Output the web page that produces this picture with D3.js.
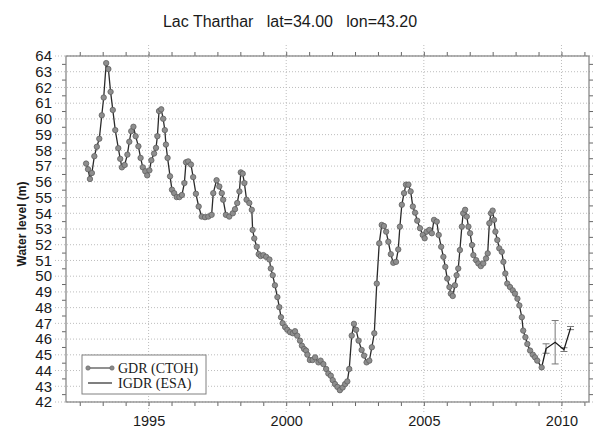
<!DOCTYPE html>
<html><head><meta charset="utf-8">
<script src="https://cdn.jsdelivr.net/npm/d3@7"></script>
<style>body{margin:0;background:#fff}svg{display:block}</style>
</head><body><svg id="c" width="593" height="428"></svg>
<script>
const title = "Lac Tharthar\u00A0\u00A0\u00A0lat=34.00\u00A0\u00A0\u00A0lon=43.20";
const yLabel = "Water level (m)";
const legendLabels = ["GDR (CTOH)", "IGDR (ESA)"];
const yTicks = [42,43,44,45,46,47,48,49,50,51,52,53,54,55,56,57,58,59,60,61,62,63,64];
const xTickLabels = [1995, 2000, 2005, 2010];

const gdrYears = [1992.73,1992.80,1992.87,1992.94,1993.03,1993.12,1993.21,1993.30,1993.37,1993.46,1993.54,1993.62,1993.70,1993.79,1993.90,1993.97,1994.03,1994.13,1994.23,1994.30,1994.37,1994.45,1994.53,1994.63,1994.71,1994.79,1994.88,1994.95,1995.03,1995.10,1995.20,1995.27,1995.32,1995.38,1995.46,1995.53,1995.59,1995.63,1995.69,1995.78,1995.85,1995.93,1996.02,1996.12,1996.21,1996.30,1996.36,1996.44,1996.54,1996.62,1996.72,1996.82,1996.93,1997.05,1997.17,1997.29,1997.35,1997.47,1997.57,1997.66,1997.71,1997.81,1997.93,1998.06,1998.14,1998.22,1998.30,1998.35,1998.42,1998.48,1998.56,1998.66,1998.75,1998.78,1998.84,1998.93,1999.00,1999.07,1999.17,1999.27,1999.39,1999.44,1999.51,1999.59,1999.68,1999.75,1999.81,1999.87,1999.96,2000.04,2000.14,2000.24,2000.32,2000.40,2000.50,2000.57,2000.65,2000.72,2000.77,2000.86,2000.96,2001.05,2001.17,2001.25,2001.35,2001.45,2001.53,2001.62,2001.69,2001.77,2001.86,2001.95,2002.05,2002.14,2002.22,2002.29,2002.38,2002.46,2002.54,2002.63,2002.74,2002.83,2002.92,2003.02,2003.11,2003.20,2003.29,2003.38,2003.47,2003.55,2003.63,2003.71,2003.80,2003.89,2003.99,2004.07,2004.13,2004.20,2004.28,2004.35,2004.44,2004.52,2004.60,2004.68,2004.76,2004.86,2004.96,2005.03,2005.10,2005.20,2005.29,2005.37,2005.47,2005.54,2005.63,2005.71,2005.78,2005.85,2005.93,2005.98,2006.05,2006.13,2006.19,2006.25,2006.31,2006.38,2006.43,2006.50,2006.56,2006.62,2006.68,2006.75,2006.80,2006.90,2006.98,2007.07,2007.16,2007.26,2007.32,2007.38,2007.44,2007.50,2007.55,2007.60,2007.67,2007.74,2007.83,2007.89,2007.96,2008.03,2008.13,2008.23,2008.31,2008.40,2008.47,2008.56,2008.61,2008.69,2008.76,2008.86,2008.96,2009.04,2009.12,2009.28];
const gdrLevels = [57.16,56.8,56.18,56.56,57.63,58.23,58.74,60.23,61.36,63.55,63.17,61.72,60.57,59.29,58.14,57.46,56.92,57.07,57.73,58.55,59.22,59.5,58.9,58.26,57.52,56.92,56.67,56.41,56.73,57.37,57.8,58.16,58.9,60.5,60.61,60.01,59.29,58.37,57.52,56.35,55.5,55.28,55.03,55.03,55.16,55.92,57.24,57.3,57.1,56.3,55.24,54.43,53.79,53.75,53.79,53.9,55.28,56.1,55.7,55.28,54.86,53.9,53.79,54.0,54.26,54.65,55.39,56.6,56.52,55.92,54.86,54.65,54.22,52.94,52.4,51.87,51.4,51.28,51.34,51.23,51.06,50.49,50.06,49.42,48.67,48.03,47.39,47.01,46.76,46.59,46.44,46.37,46.5,46.22,45.9,45.58,45.37,45.27,45.01,44.67,44.67,44.84,44.52,44.63,44.41,44.1,43.81,43.67,43.39,43.14,42.96,42.75,42.92,43.14,43.31,44.1,46.22,46.97,46.59,45.9,45.31,44.95,44.52,44.63,45.48,46.37,49.53,52.09,53.26,53.19,52.83,52.19,51.4,50.85,50.91,51.7,53.15,54.54,55.28,55.82,55.82,55.39,54.43,54.04,53.53,53.05,52.62,52.41,52.83,52.94,52.73,53.58,53.47,52.62,51.87,51.23,50.59,49.85,49.31,48.89,48.74,49.42,50.06,50.49,51.66,53.15,54.0,54.22,53.79,53.15,52.73,51.98,51.34,51.02,50.81,50.64,50.81,51.13,51.45,53.37,54.0,54.17,53.58,52.83,52.3,51.77,51.55,50.91,50.17,49.53,49.31,49.1,48.89,48.57,48.14,47.39,46.54,46.12,45.69,45.27,45.01,44.84,44.63,44.2];

const igdrYears = [2009.28, 2009.44, 2009.77, 2010.09, 2010.33];
const igdrLevels = [44.2, 45.4, 45.8, 45.33, 46.7];
const igdrErrors = [0, 0.3, 1.38, 0.12, 0.1];

const svg = d3.select('#c');
const W = 593, H = 428;
const x = d3.scaleLinear().domain([1992, 2011]).range([66, 589]);
const y = d3.scaleLinear().domain([42, 64]).range([402, 56]);
const [x0, x1] = x.range();
const [yb, yt] = y.range();

const fontSans = "'Liberation Sans', Arial, Helvetica, sans-serif";

svg.append('g').selectAll('line').data(yTicks).join('line')
  .attr('x1', x0 - 11).attr('x2', W)
  .attr('y1', d => y(d)).attr('y2', d => y(d))
  .attr('stroke', '#bdbdbd').attr('stroke-width', 1).attr('stroke-dasharray', '1,2');

svg.append('g').selectAll('line').data(xTickLabels).join('line')
  .attr('x1', d => x(d)).attr('x2', d => x(d))
  .attr('y1', yt - 11).attr('y2', yb + 11)
  .attr('stroke', '#bdbdbd').attr('stroke-width', 1).attr('stroke-dasharray', '1,2');

const halfTicks = yTicks.slice(0, -1).map(d => d + 0.5);
const xMinor = d3.range(-3, 20).map(k => 1995 + k * 5 / 6);

function styleAxis(g) {
  g.select('.domain').remove();
  g.selectAll('.tick line').attr('stroke', '#666');
  g.selectAll('text').attr('fill', '#1a1a1a').style('font-family', fontSans);
}

svg.append('g').attr('transform', `translate(${x0},0)`)
  .call(d3.axisLeft(y).tickValues(halfTicks).tickSize(4).tickFormat('')).call(styleAxis);
svg.append('g').attr('transform', `translate(${x1},0)`)
  .call(d3.axisRight(y).tickValues(halfTicks).tickSize(4).tickFormat('')).call(styleAxis);
svg.append('g').attr('transform', `translate(0,${yb})`)
  .call(d3.axisBottom(x).tickValues(xMinor).tickSize(4).tickFormat('')).call(styleAxis);
svg.append('g').attr('transform', `translate(0,${yt})`)
  .call(d3.axisTop(x).tickValues(xMinor).tickSize(4).tickFormat('')).call(styleAxis);

svg.append('g').attr('transform', `translate(${x0},0)`)
  .call(d3.axisLeft(y).tickValues(yTicks).tickSize(0).tickPadding(14).tickFormat(d3.format('d')))
  .call(styleAxis).selectAll('text').style('font-size', '15px');
svg.append('g').attr('transform', `translate(0,${yb})`)
  .call(d3.axisBottom(x).tickValues(xTickLabels).tickSize(0).tickPadding(14).tickFormat(d3.format('d')))
  .call(styleAxis).selectAll('text').style('font-size', '14.5px');

svg.append('rect').attr('x', x0).attr('y', yt).attr('width', x1 - x0).attr('height', yb - yt)
  .attr('fill', 'none').attr('stroke', '#808080').attr('stroke-width', 1.2);

svg.append('text').attr('x', 290).attr('y', 27).attr('text-anchor', 'middle')
  .style('font-family', fontSans).style('font-size', '16px').attr('fill', '#1a1a1a').text(title);

svg.append('text').attr('transform', 'translate(26,224) rotate(-90)').attr('text-anchor', 'middle')
  .style('font-family', fontSans).style('font-size', '12px').style('font-weight', 'bold')
  .attr('fill', '#1a1a1a').text(yLabel);

const line = d3.line().x(d => x(d[0])).y(d => y(d[1]));
const gdr = d3.zip(gdrYears, gdrLevels);
const igdr = d3.zip(igdrYears, igdrLevels, igdrErrors);

const eb = svg.append('g').attr('stroke', '#777').attr('stroke-width', 1);
igdr.filter(d => d[2] > 0).forEach(d => {
  const cx = x(d[0]);
  eb.append('line').attr('x1', cx).attr('x2', cx).attr('y1', y(d[1] - d[2])).attr('y2', y(d[1] + d[2]));
  eb.append('line').attr('x1', cx - 3.5).attr('x2', cx + 3.5).attr('y1', y(d[1] - d[2])).attr('y2', y(d[1] - d[2]));
  eb.append('line').attr('x1', cx - 3.5).attr('x2', cx + 3.5).attr('y1', y(d[1] + d[2])).attr('y2', y(d[1] + d[2]));
});

svg.append('path').datum(igdr).attr('d', line).attr('fill', 'none')
  .attr('stroke', '#1a1a1a').attr('stroke-width', 1.3);

svg.append('path').datum(gdr).attr('d', line).attr('fill', 'none')
  .attr('stroke', '#2a2a2a').attr('stroke-width', 1.3);
svg.append('g').selectAll('circle').data(gdr).join('circle')
  .attr('cx', d => x(d[0])).attr('cy', d => y(d[1])).attr('r', 2.7)
  .attr('fill', '#8e8e8e').attr('stroke', '#5f5f5f').attr('stroke-width', 0.8);

const lg = svg.append('g');
lg.append('rect').attr('x', 82).attr('y', 355).attr('width', 124).attr('height', 39)
  .attr('fill', '#fff').attr('stroke', '#808080').attr('stroke-width', 1);
const rows = [368, 383];
lg.append('line').attr('x1', 88).attr('x2', 112).attr('y1', rows[0]).attr('y2', rows[0])
  .attr('stroke', '#555').attr('stroke-width', 1.3);
[88, 112].forEach(cx => lg.append('circle').attr('cx', cx).attr('cy', rows[0]).attr('r', 2.2)
  .attr('fill', '#8a8a8a').attr('stroke', '#666').attr('stroke-width', 0.6));
lg.append('line').attr('x1', 88).attr('x2', 112).attr('y1', rows[1]).attr('y2', rows[1])
  .attr('stroke', '#2a2a2a').attr('stroke-width', 1.2);
lg.selectAll('text.l').data(legendLabels).join('text').attr('class', 'l')
  .attr('x', 118).attr('y', (d, i) => rows[i] + 5)
  .style('font-family', "'Liberation Serif', 'Times New Roman', serif").style('font-size', '14px')
  .attr('fill', '#1a1a1a').text(d => d);
</script></body></html>
